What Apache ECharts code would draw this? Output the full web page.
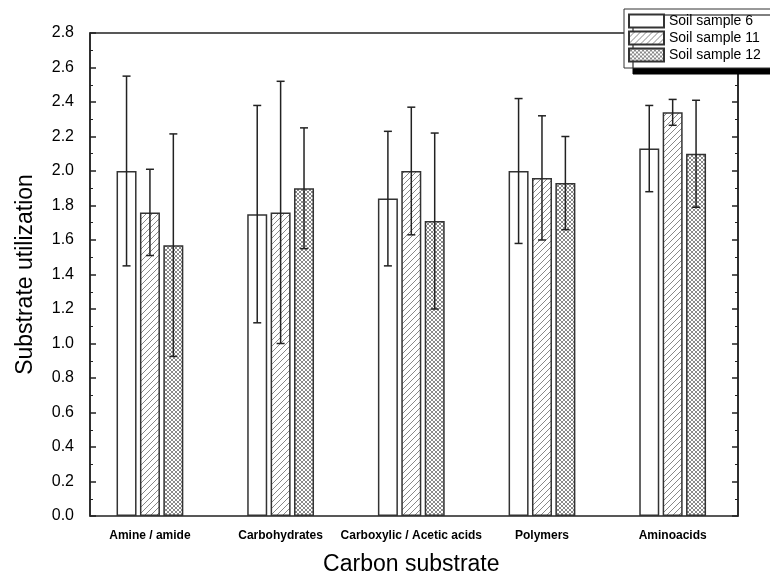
<!DOCTYPE html>
<html>
<head>
<meta charset="utf-8">
<title>Substrate utilization</title>
<script src="https://cdn.jsdelivr.net/npm/echarts@6/dist/echarts.min.js"></script>
<style>
  html, body { margin: 0; padding: 0; background: #fff; }
  #main { width: 770px; height: 577px; }
</style>
</head>
<body>
<div id="main"></div>
<script>
const categories = ['Amine / amide', 'Carbohydrates', 'Carboxylic / Acetic acids', 'Polymers', 'Aminoacids']
const seriesNames = ['Soil sample 6', 'Soil sample 11', 'Soil sample 12']
const sample6 = [2.00, 1.75, 1.84, 2.00, 2.13]
const err6 = [0.55, 0.63, 0.39, 0.42, 0.25]
const sample11 = [1.76, 1.76, 2.00, 1.96, 2.34]
const err11 = [0.25, 0.76, 0.37, 0.36, 0.075]
const sample12 = [1.57, 1.90, 1.71, 1.93, 2.10]
const err12 = [0.645, 0.35, 0.51, 0.27, 0.31]
const yTicks = [0, 0.2, 0.4, 0.6, 0.8, 1.0, 1.2, 1.4, 1.6, 1.8, 2.0, 2.2, 2.4, 2.6, 2.8]

const FONT = '"Liberation Sans", Arial, sans-serif'
const LINE = '#222'

// fill patterns for the bars
function hatch() {
  const c = document.createElement('canvas')
  c.width = 6
  c.height = 6
  const ctx = c.getContext('2d')
  ctx.fillStyle = '#fff'
  ctx.fillRect(0, 0, 6, 6)
  ctx.strokeStyle = '#888'
  ctx.lineWidth = 1
  ctx.beginPath()
  ctx.moveTo(-1, 7); ctx.lineTo(7, -1)
  ctx.moveTo(-4, 4); ctx.lineTo(4, -4)
  ctx.moveTo(2, 10); ctx.lineTo(10, 2)
  ctx.stroke()
  return { image: c, repeat: 'repeat' }
}
function cross() {
  const c = document.createElement('canvas')
  c.width = 4
  c.height = 4
  const ctx = c.getContext('2d')
  ctx.fillStyle = '#fff'
  ctx.fillRect(0, 0, 4, 4)
  ctx.strokeStyle = '#8a8a8a'
  ctx.lineWidth = 1
  ctx.beginPath()
  ctx.moveTo(0, 0); ctx.lineTo(4, 4)
  ctx.moveTo(4, 0); ctx.lineTo(0, 4)
  ctx.stroke()
  return { image: c, repeat: 'repeat' }
}

const values = [sample6, sample11, sample12]
const errors = [err6, err11, err12]
const fills = ['#fff', hatch(), cross()]
const offsets = [-23.4, 0, 23.4]

const chart = echarts.init(document.getElementById('main'))

const series = []
values.forEach((v, k) => {
  series.push({
    name: seriesNames[k],
    type: 'bar',
    xAxisIndex: 1,
    yAxisIndex: 2,
    barWidth: 20,
    barGap: '17%',
    data: v,
    itemStyle: { color: fills[k], borderColor: '#333', borderWidth: 1.5 },
    emphasis: { disabled: true },
    animation: false
  })
})
values.forEach((v, k) => {
  series.push({
    type: 'custom',
    xAxisIndex: 1,
    yAxisIndex: 2,
    z: 5,
    data: v.map((d, i) => [i, d - errors[k][i], d + errors[k][i]]),
    renderItem(params, api) {
      const lo = api.coord([api.value(0), api.value(1)])
      const hi = api.coord([api.value(0), api.value(2)])
      const x = lo[0] + offsets[k]
      const st = { stroke: LINE, lineWidth: 1.5 }
      return {
        type: 'group',
        children: [
          { type: 'line', shape: { x1: x, y1: lo[1], x2: x, y2: hi[1] }, style: st },
          { type: 'line', shape: { x1: x - 4, y1: lo[1], x2: x + 4, y2: lo[1] }, style: st },
          { type: 'line', shape: { x1: x - 4, y1: hi[1], x2: x + 4, y2: hi[1] }, style: st }
        ]
      }
    },
    animation: false
  })
})

const yCommon = {
  type: 'value',
  min: yTicks[0],
  max: yTicks[yTicks.length - 1],
  interval: 0.2,
  splitLine: { show: false },
  axisLine: { show: true, lineStyle: { color: LINE, width: 1.5 } },
  axisTick: { show: true, inside: true, length: 6, lineStyle: { color: LINE, width: 1.5 } },
  minorTick: { show: true, splitNumber: 2, length: 3, lineStyle: { color: LINE, width: 1 } }
}

chart.setOption({
  animation: false,
  grid: [
    { left: 90, right: 32, top: 33, bottom: 61, outerBoundsMode: 'none', show: true, borderColor: LINE, borderWidth: 1.5 },
    { left: 84.6, right: 32, top: 33, bottom: 61, outerBoundsMode: 'none' }
  ],
  legend: {
    data: seriesNames,
    orient: 'vertical',
    left: 624,
    top: 9,
    padding: [4, 20, 5, 4],
    itemWidth: 35,
    itemHeight: 13,
    itemGap: 1,
    icon: 'rect',
    backgroundColor: '#fff',
    borderColor: '#333',
    borderWidth: 1,
    shadowColor: '#000',
    shadowBlur: 0,
    shadowOffsetX: 9,
    shadowOffsetY: 6,
    textStyle: { fontFamily: FONT, fontSize: 14, color: '#000', lineHeight: 16 },
    selectedMode: false,
    z: 20
  },
  xAxis: [
    { gridIndex: 0, type: 'value', show: false, min: 0, max: 1 },
    {
      gridIndex: 1,
      type: 'category',
      data: categories,
      axisLine: { show: false },
      axisTick: { show: false },
      axisLabel: { interval: 0, fontFamily: FONT, fontSize: 12, fontWeight: 'bold', color: '#000', margin: 14 },
      name: 'Carbon substrate',
      nameLocation: 'middle',
      nameGap: 37,
      nameTextStyle: { fontFamily: FONT, fontSize: 23, color: '#000' }
    }
  ],
  yAxis: [
    Object.assign({}, yCommon, {
      gridIndex: 0,
      position: 'left',
      axisLabel: {
        fontFamily: FONT, fontSize: 16, color: '#000', margin: 16,
        formatter: v => v.toFixed(1)
      },
      name: 'Substrate utilization',
      nameLocation: 'middle',
      nameGap: 53,
      nameTextStyle: { fontFamily: FONT, fontSize: 23, color: '#000' }
    }),
    Object.assign({}, yCommon, { gridIndex: 0, position: 'right', axisLabel: { show: false } }),
    { gridIndex: 1, type: 'value', min: yTicks[0], max: yTicks[yTicks.length - 1], show: false }
  ],
  series: series
})
</script>
</body>
</html>
